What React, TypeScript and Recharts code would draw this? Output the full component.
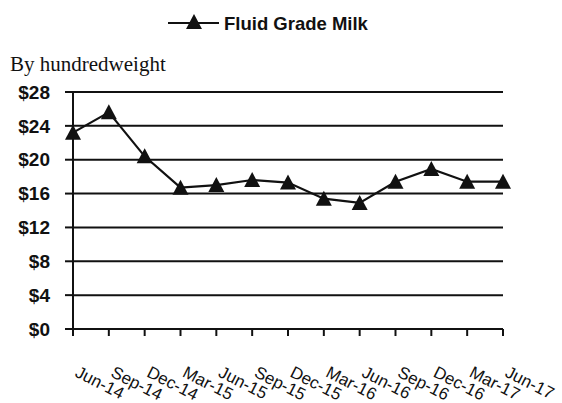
import { LineChart, Line, XAxis, YAxis, CartesianGrid } from "recharts"

const months = ["Jun-14", "Sep-14", "Dec-14", "Mar-15", "Jun-15", "Sep-15", "Dec-15", "Mar-16", "Jun-16", "Sep-16", "Dec-16", "Mar-17", "Jun-17"]
const milkPrice = [23.2, 25.6, 20.4, 16.7, 17.0, 17.6, 17.3, 15.4, 14.9, 17.4, 18.9, 17.4, 17.4]
const yTicks = [0, 4, 8, 12, 16, 20, 24, 28]

const chartData = months.map((m, i) => ({ idx: i, label: m, price: milkPrice[i] }))

const Triangle = (props: any) => {
  const { cx, cy } = props
  if (cx == null || cy == null) return null
  return <path d={`M${cx},${cy - 8} L${cx + 8},${cy + 7} L${cx - 8},${cy + 7} Z`} fill="#111" />
}

const MonthTick = (props: any) => {
  const { x, y, payload } = props
  const tx = x + 1
  const ty = y + 38
  return (
    <text x={tx} y={ty} transform={`rotate(27, ${tx}, ${ty})`} textAnchor="start"
      fontFamily="Liberation Sans, Arial, sans-serif" fontSize={17} fill="#111">
      {months[payload.value]}
    </text>
  )
}

export default function App() {
  return (
    <div style={{ position: "absolute", left: 0, top: 0, width: 562, height: 403, background: "#fff" }}>
      {/* legend */}
      <svg width={562} height={40} style={{ position: "absolute", left: 0, top: 0 }}>
        <line x1={168} y1={23} x2={219} y2={23} stroke="#111" strokeWidth={2} />
        <path d="M194,14 L202,29 L186,29 Z" fill="#111" />
        <text x={224} y={30} fontFamily="Liberation Sans, Arial, sans-serif" fontWeight="bold" fontSize={18.5} fill="#111">
          Fluid Grade Milk
        </text>
      </svg>
      <div style={{ position: "absolute", left: 10, top: 52, fontFamily: "Liberation Serif, Times New Roman, serif", fontSize: 21, color: "#111", lineHeight: "24px" }}>
        By hundredweight
      </div>
      <LineChart width={562} height={403} data={chartData} margin={{ top: 92, right: 59, left: 0, bottom: 0 }}>
        <CartesianGrid vertical={false} stroke="#111" strokeWidth={2} />
        <XAxis dataKey="idx" type="number" domain={[0, 12]} ticks={months.map((_, i) => i)}
          height={74} tickSize={7} tick={<MonthTick />} interval={0}
          axisLine={{ stroke: "#111", strokeWidth: 2 }} tickLine={{ stroke: "#111", strokeWidth: 2 }} />
        <YAxis domain={[0, 28]} ticks={yTicks} width={73} tickSize={8} tickMargin={15}
          tickFormatter={(v) => `$${v}`}
          tick={{ fontFamily: "Liberation Sans, Arial, sans-serif", fontWeight: "bold", fontSize: 19, fill: "#111" }}
          axisLine={{ stroke: "#111", strokeWidth: 2 }} tickLine={{ stroke: "#111", strokeWidth: 2 }} />
        <Line dataKey="price" stroke="#111" strokeWidth={2.2} dot={<Triangle />} isAnimationActive={false} />
      </LineChart>
    </div>
  )
}
